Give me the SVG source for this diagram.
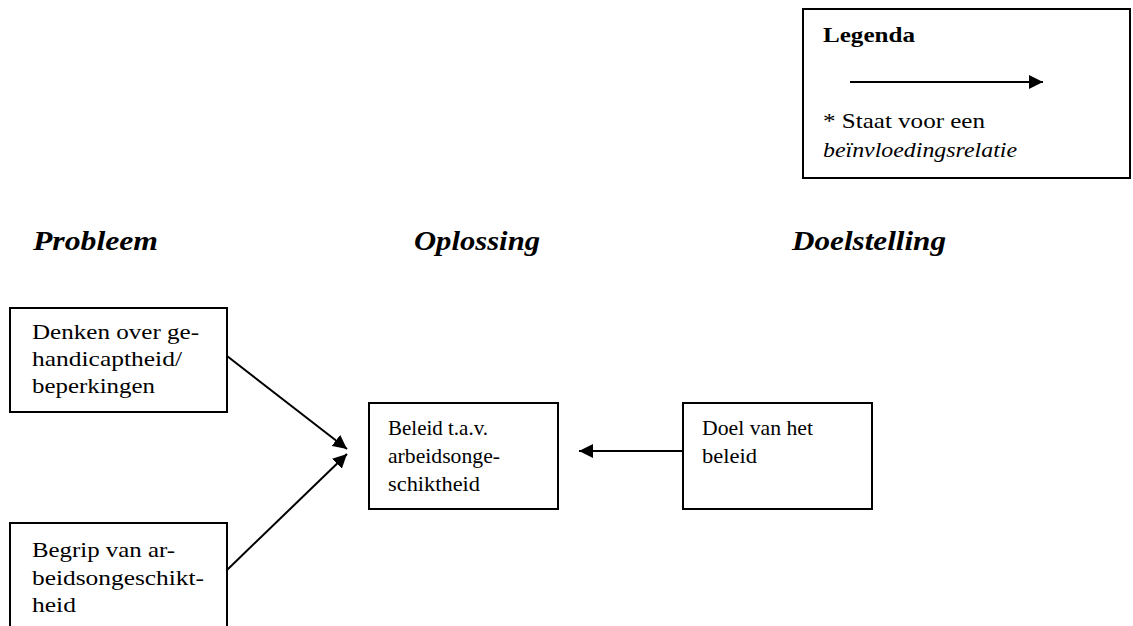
<svg xmlns="http://www.w3.org/2000/svg" width="1133" height="626" viewBox="0 0 1133 626">
<defs>
<marker id="ahl" viewBox="0 0 10 10" refX="10" refY="5" markerWidth="14" markerHeight="14" markerUnits="userSpaceOnUse" orient="auto">
<path d="M0,0 L10,5 L0,10 z" fill="#000"/>
</marker>
</defs>
<style>
text{font-family:"Liberation Serif","DejaVu Serif",serif;fill:#000}
.t{font-size:21px}
.h{font-size:28px;font-weight:bold;font-style:italic}
.box{fill:#fff;stroke:#000;stroke-width:2}
.conn{stroke:#000;stroke-width:2;fill:none}
</style>
<rect width="1133" height="626" fill="#fff"/>
<g id="legenda">
<rect class="box" x="803" y="9" width="327" height="169"/>
<text class="t" x="823" y="42" font-weight="bold" font-size="22" textLength="92" lengthAdjust="spacingAndGlyphs">Legenda</text>
<line class="conn" x1="850" y1="82" x2="1043" y2="82" marker-end="url(#ahl)"/>
<text class="t" x="823" y="128" textLength="162" lengthAdjust="spacingAndGlyphs">* Staat voor een</text>
<text class="t" x="823" y="157" font-style="italic" textLength="194" lengthAdjust="spacingAndGlyphs">beïnvloedingsrelatie</text>
</g>
<g id="headings">
<text class="h" x="33" y="250" textLength="125" lengthAdjust="spacingAndGlyphs">Probleem</text>
<text class="h" x="414" y="250" textLength="126" lengthAdjust="spacingAndGlyphs">Oplossing</text>
<text class="h" x="792" y="250" textLength="154" lengthAdjust="spacingAndGlyphs">Doelstelling</text>
</g>
<g id="connectors">
<line class="conn" x1="227" y1="356" x2="347" y2="449" marker-end="url(#ahl)"/>
<line class="conn" x1="227" y1="570" x2="347" y2="454" marker-end="url(#ahl)"/>
<line class="conn" x1="683" y1="451" x2="579" y2="451" marker-end="url(#ahl)"/>
</g>
<g id="node-denken">
<rect class="box" x="10" y="308" width="217" height="104"/>
<text class="t" x="32" y="339" textLength="167" lengthAdjust="spacingAndGlyphs">Denken over ge-</text>
<text class="t" x="32" y="366" textLength="150" lengthAdjust="spacingAndGlyphs">handicaptheid/</text>
<text class="t" x="32" y="393" textLength="123" lengthAdjust="spacingAndGlyphs">beperkingen</text>
</g>
<g id="node-begrip">
<rect class="box" x="10" y="523" width="217" height="120"/>
<text class="t" x="32" y="557" textLength="143" lengthAdjust="spacingAndGlyphs">Begrip van ar-</text>
<text class="t" x="32" y="585" textLength="172" lengthAdjust="spacingAndGlyphs">beidsongeschikt-</text>
<text class="t" x="32" y="612" textLength="44" lengthAdjust="spacingAndGlyphs">heid</text>
</g>
<g id="node-beleid">
<rect class="box" x="369" y="403" width="189" height="106"/>
<text class="t" x="388" y="435" textLength="100" lengthAdjust="spacingAndGlyphs">Beleid t.a.v.</text>
<text class="t" x="388" y="463" textLength="112" lengthAdjust="spacingAndGlyphs">arbeidsonge-</text>
<text class="t" x="388" y="491" textLength="92" lengthAdjust="spacingAndGlyphs">schiktheid</text>
</g>
<g id="node-doel">
<rect class="box" x="683" y="403" width="189" height="106"/>
<text class="t" x="702" y="435" textLength="111" lengthAdjust="spacingAndGlyphs">Doel van het</text>
<text class="t" x="702" y="463" textLength="55" lengthAdjust="spacingAndGlyphs">beleid</text>
</g>
</svg>
